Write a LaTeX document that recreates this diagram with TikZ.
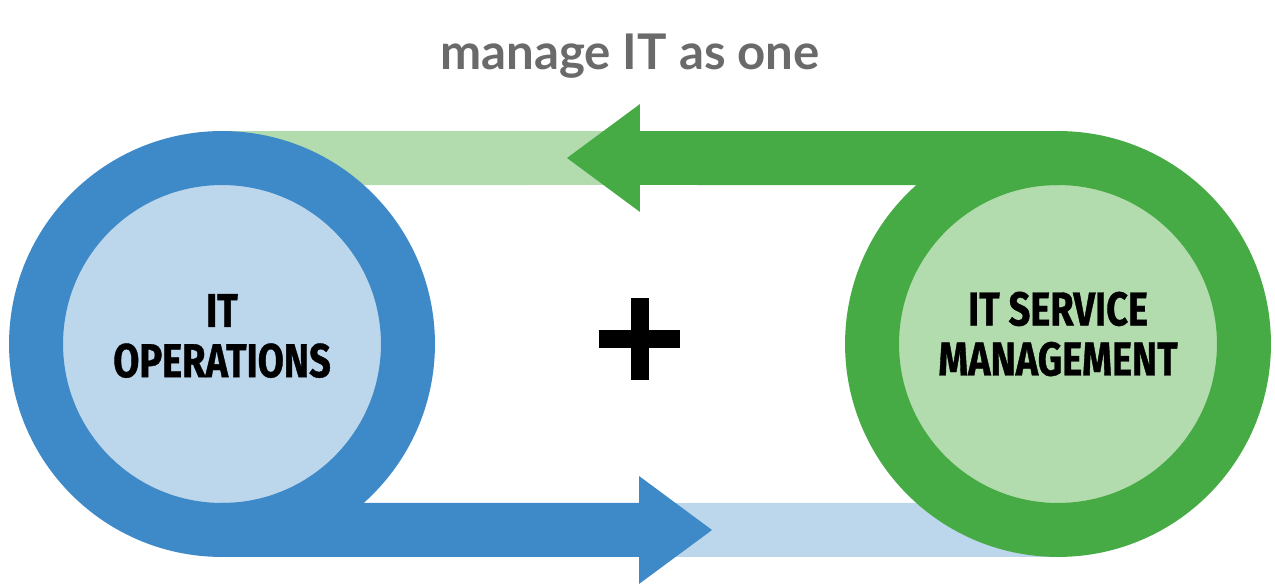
\documentclass[tikz,border=0pt]{standalone}
\usepackage{fontspec}
\usetikzlibrary{arrows.meta,positioning,backgrounds}

\newfontfamily\labelfont[FakeStretch=0.8, FakeBold=0.8]{Fira Sans}
\newfontfamily\titlefont{Lato}

\definecolor{opsblue}{HTML}{3E89C8}
\definecolor{opslight}{HTML}{BCD6EC}
\definecolor{smgreen}{HTML}{47AB45}
\definecolor{smlight}{HTML}{B3DCAE}
\definecolor{titlegray}{HTML}{6A6A6A}

\tikzset{
  ring/.style={circle, line width=1.08cm, minimum size=7.44cm, inner sep=0pt, outer sep=0pt},
  band/.style={line width=1.08cm},
  bigarrow/.style={band, -{Triangle[length=1.46cm, width=2.16cm, line width=0pt]}},
  labeltext/.style={font=\labelfont\bfseries\fontsize{27}{28.5}\selectfont, align=center, text=black},
  titletext/.style={font=\titlefont\bfseries\fontsize{28}{30}\selectfont, text=titlegray, anchor=base},
  plussign/.style={line width=0.36cm, black},
}

\begin{document}
\begin{tikzpicture}[x=0.02cm, y=0.02cm]
  % canvas of the picture, 1275 x 585
  \useasboundingbox (0,0) rectangle (1275,585);

  % the two rings, blue on the left and green on the right
  \node[ring, draw=opsblue, fill=opslight] (ops) at (222,241) {};
  \node[ring, draw=smgreen, fill=smlight] (itsm) at (1058,241) {};

  % texts inside the rings
  \node[labeltext] (opslabel) at ([yshift=0.16cm]ops.center) {IT\\OPERATIONS};
  \node[labeltext] (itsmlabel) at ([yshift=0.2cm]itsm.center) {IT SERVICE\\MANAGEMENT};

  % where the arrow heads sit
  \coordinate (toptip) at (567,427);
  \coordinate (topbase) at (640,427);
  \coordinate (bottip) at (712,55);
  \coordinate (botbase) at (640,55);

  % pale bands, behind the rings
  \begin{scope}[on background layer]
    \draw[band, smlight] (ops.north) -- (topbase);
    \draw[band, opslight] (botbase) -- (itsm.south);
  \end{scope}

  % the two big arrows
  \draw[bigarrow, smgreen] (itsm.north) -- (toptip);
  \draw[bigarrow, opsblue] (ops.south) -- (bottip);

  % plus sign in the middle
  \coordinate (plus) at (639.5,246);
  \draw[plussign] ([xshift=-0.82cm]plus) -- ([xshift=0.82cm]plus);
  \draw[plussign] ([yshift=-0.82cm]plus) -- ([yshift=0.82cm]plus);

  % title on top
  \node[titletext] (title) at (630,515) {manage IT as one};
\end{tikzpicture}
\end{document}
